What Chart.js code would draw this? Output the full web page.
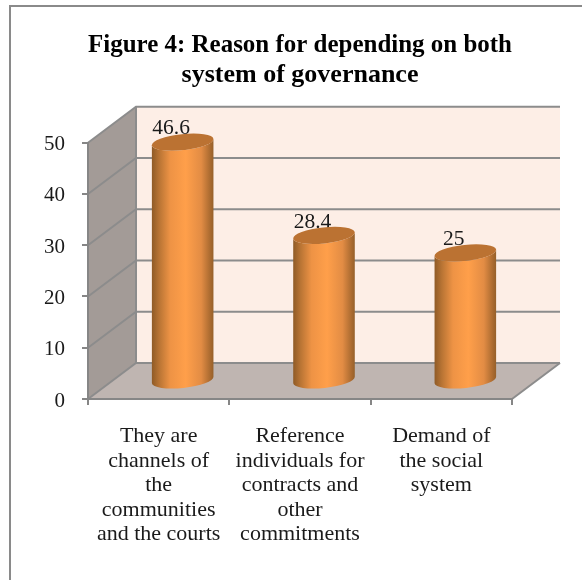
<!DOCTYPE html>
<html>
<head>
<meta charset="utf-8">
<title>Figure 4</title>
<style>
    html, body { margin: 0; padding: 0; background: #fff; overflow: hidden; }
    #wrap { position: relative; width: 582px; height: 580px; overflow: hidden; }
    #frame { position: absolute; left: 9px; top: 5px; width: 600px; height: 600px; border: 2px solid #8a8a8a; }
    canvas { position: absolute; left: 0; top: 0; }
</style>
<script src="https://cdn.jsdelivr.net/npm/chart.js@4"></script>
</head>
<body>
<div id="wrap">
    <div id="frame"></div>
    <canvas id="reasonChart" width="582" height="580"></canvas>
</div>
<script>
    const titleLines = ['Figure 4: Reason for depending on both', 'system of governance'];
    const categories = [
        ['They are', 'channels of', 'the', 'communities', 'and the courts'],
        ['Reference', 'individuals for', 'contracts and', 'other', 'commitments'],
        ['Demand of', 'the social', 'system']
    ];
    const percentages = [46.6, 28.4, 25];
    const yTicks = [0, 10, 20, 30, 40, 50];

    // 3D box depth in pixels
    const DEPTH_X = 48;
    const DEPTH_Y = 36;
    const TILT = -6 * Math.PI / 180;
    const SERIF = "'Liberation Serif', 'Times New Roman', serif";

    // Side wall, floor and back wall, plus their grid lines
    const boxPlugin = {
        id: 'box3d',
        beforeDraw(chart) {
            const { ctx } = chart;
            const { x, y } = chart.scales;
            const x0 = x.left, x1 = x.right;
            const y0 = y.getPixelForValue(0), yTop = y.getPixelForValue(50);

            ctx.save();
            ctx.fillStyle = '#fdeee6';
            ctx.fillRect(x0 + DEPTH_X, yTop - DEPTH_Y, x1 - x0, y0 - yTop);

            ctx.fillStyle = '#bfb5b1';
            ctx.beginPath();
            ctx.moveTo(x0, y0);
            ctx.lineTo(x1, y0);
            ctx.lineTo(x1 + DEPTH_X, y0 - DEPTH_Y);
            ctx.lineTo(x0 + DEPTH_X, y0 - DEPTH_Y);
            ctx.closePath();
            ctx.fill();

            ctx.fillStyle = '#a39b97';
            ctx.beginPath();
            ctx.moveTo(x0, y0);
            ctx.lineTo(x0, yTop);
            ctx.lineTo(x0 + DEPTH_X, yTop - DEPTH_Y);
            ctx.lineTo(x0 + DEPTH_X, y0 - DEPTH_Y);
            ctx.closePath();
            ctx.fill();

            ctx.strokeStyle = '#8c8c8c';
            ctx.lineWidth = 2;
            yTicks.forEach(function(v) {
                const py = y.getPixelForValue(v);
                ctx.beginPath();
                ctx.moveTo(x0, py);
                ctx.lineTo(x0 + DEPTH_X, py - DEPTH_Y);
                ctx.lineTo(x1 + DEPTH_X, py - DEPTH_Y);
                ctx.stroke();
            });
            // floor edge on the right and the corner of the two walls
            ctx.beginPath();
            ctx.moveTo(x1, y0);
            ctx.lineTo(x1 + DEPTH_X, y0 - DEPTH_Y);
            ctx.moveTo(x0 + DEPTH_X, yTop - DEPTH_Y);
            ctx.lineTo(x0 + DEPTH_X, y0 - DEPTH_Y);
            ctx.stroke();
            ctx.restore();
        },
        afterDatasetsDraw(chart) {
            const { ctx } = chart;
            const meta = chart.getDatasetMeta(0);
            meta.data.forEach(function(bar, i) {
                ctx.save();
                ctx.fillStyle = '#1a1a1a';
                ctx.font = "21.5px " + SERIF;
                ctx.textAlign = 'center';
                ctx.textBaseline = 'middle';
                ctx.fillText(String(percentages[i]), bar.x + DEPTH_X / 2 - 11.5, bar.y - DEPTH_Y / 2 - 13.5);
                ctx.restore();
                drawCylinder(ctx, bar);
            });
        }
    };

    // Cylinder standing halfway into the box, sized from the bar element
    function drawCylinder(ctx, bar) {
        const cx = bar.x + DEPTH_X / 2;
        const rx = bar.width / 2;
        const ry = 8;
        const top = bar.y - DEPTH_Y / 2;
        const base = bar.base - DEPTH_Y / 2;
        const g = ctx.createLinearGradient(cx - rx, 0, cx + rx, 0);
        g.addColorStop(0, '#8e5a26');
        g.addColorStop(0.12, '#b87434');
        g.addColorStop(0.3, '#ee9345');
        g.addColorStop(0.55, '#ff9f4a');
        g.addColorStop(0.8, '#e28c44');
        g.addColorStop(0.95, '#a8692f');
        g.addColorStop(1, '#95602a');

        ctx.save();
        ctx.fillStyle = g;
        ctx.beginPath();
        ctx.ellipse(cx, base, rx, ry, TILT, 0, Math.PI);
        ctx.ellipse(cx, top, rx, ry, TILT, Math.PI, 0, true);
        ctx.closePath();
        ctx.fill();

        ctx.fillStyle = '#bb7232';
        ctx.beginPath();
        ctx.ellipse(cx, top, rx, ry, TILT, 0, Math.PI * 2);
        ctx.fill();
        ctx.restore();
    }

    new Chart(document.getElementById('reasonChart'), {
        type: 'bar',
        data: {
            labels: categories,
            datasets: [{
                data: percentages,
                backgroundColor: 'rgba(0, 0, 0, 0)',
                barPercentage: 0.438,
                categoryPercentage: 1
            }]
        },
        plugins: [boxPlugin],
        options: {
            responsive: false,
            animation: false,
            layout: { padding: { left: 28, right: 70, top: 0, bottom: 0 } },
            plugins: {
                legend: { display: false },
                tooltip: { enabled: false },
                title: {
                    display: true,
                    fullSize: false,
                    text: titleLines,
                    color: '#000',
                    font: { family: SERIF, size: 26, weight: 'bold', lineHeight: '30px' },
                    padding: { top: 30, bottom: 52.7 }
                }
            },
            scales: {
                x: {
                    afterFit(scale) { scale.height = 181; },
                    grid: { drawOnChartArea: false, color: '#868686', lineWidth: 2, tickLength: 6 },
                    border: { color: '#868686', width: 2 },
                    ticks: {
                        maxRotation: 0,
                        autoSkip: false,
                        color: '#1a1a1a',
                        padding: 19,
                        font: { family: SERIF, size: 22, lineHeight: '24.5px' }
                    }
                },
                y: {
                    min: 0,
                    max: 50,
                    afterFit(scale) { scale.width = 60; },
                    grid: { drawOnChartArea: false, color: '#868686', lineWidth: 2, tickLength: 6 },
                    border: { color: '#868686', width: 2 },
                    ticks: {
                        stepSize: 10,
                        color: '#1a1a1a',
                        padding: 17,
                        labelOffset: 2,
                        font: { family: SERIF, size: 21 }
                    }
                }
            }
        }
    });
</script>
</body>
</html>
